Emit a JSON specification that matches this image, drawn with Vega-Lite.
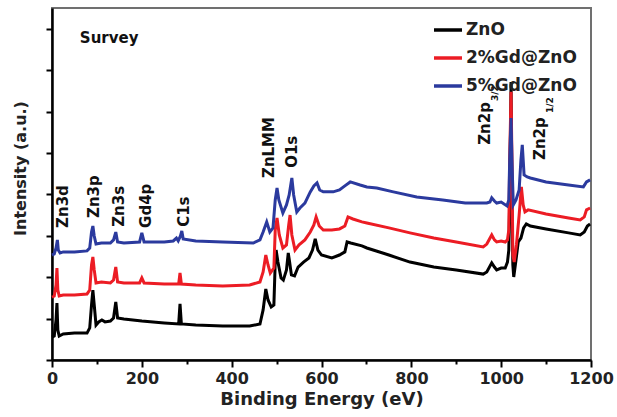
{
"$schema": "https://vega.github.io/schema/vega-lite/v6.json",
"width": 539, "height": 352,
"autosize": {"type": "none"},
"padding": {"left": 52, "top": 8, "right": 26, "bottom": 57},
"background": "white",
"config": {"font": "DejaVu Sans", "view": {"stroke": "#707070", "strokeWidth": 2}},
"datasets": {
"spectra": [
{"sample":"ZnO","energy":0,"intensity":1.11},{"sample":"ZnO","energy":5,"intensity":1.16},{"sample":"ZnO","energy":9,"intensity":1.93},{"sample":"ZnO","energy":11,"intensity":2.75},{"sample":"ZnO","energy":13,"intensity":1.45},{"sample":"ZnO","energy":16,"intensity":1.16},{"sample":"ZnO","energy":25,"intensity":1.26},{"sample":"ZnO","energy":50,"intensity":1.30},{"sample":"ZnO","energy":78,"intensity":1.30},{"sample":"ZnO","energy":84,"intensity":1.55},{"sample":"ZnO","energy":88,"intensity":2.66},{"sample":"ZnO","energy":91,"intensity":3.38},{"sample":"ZnO","energy":94,"intensity":2.66},{"sample":"ZnO","energy":98,"intensity":1.69},{"sample":"ZnO","energy":104,"intensity":1.84},{"sample":"ZnO","energy":111,"intensity":1.93},{"sample":"ZnO","energy":118,"intensity":1.84},{"sample":"ZnO","energy":130,"intensity":1.88},{"sample":"ZnO","energy":137,"intensity":2.03},{"sample":"ZnO","energy":142,"intensity":2.80},{"sample":"ZnO","energy":146,"intensity":2.03},{"sample":"ZnO","energy":160,"intensity":1.98},{"sample":"ZnO","energy":200,"intensity":1.88},{"sample":"ZnO","energy":250,"intensity":1.79},{"sample":"ZnO","energy":282,"intensity":1.74},{"sample":"ZnO","energy":285,"intensity":2.71},{"sample":"ZnO","energy":288,"intensity":1.74},{"sample":"ZnO","energy":320,"intensity":1.69},{"sample":"ZnO","energy":380,"intensity":1.64},{"sample":"ZnO","energy":440,"intensity":1.64},{"sample":"ZnO","energy":463,"intensity":1.74},{"sample":"ZnO","energy":470,"intensity":2.42},{"sample":"ZnO","energy":476,"intensity":3.43},{"sample":"ZnO","energy":481,"intensity":2.90},{"sample":"ZnO","energy":488,"intensity":2.56},{"sample":"ZnO","energy":494,"intensity":2.66},{"sample":"ZnO","energy":497,"intensity":4.73},{"sample":"ZnO","energy":499,"intensity":5.31},{"sample":"ZnO","energy":503,"intensity":4.73},{"sample":"ZnO","energy":510,"intensity":3.96},{"sample":"ZnO","energy":515,"intensity":3.86},{"sample":"ZnO","energy":522,"intensity":4.35},{"sample":"ZnO","energy":526,"intensity":5.17},{"sample":"ZnO","energy":529,"intensity":4.73},{"sample":"ZnO","energy":533,"intensity":4.11},{"sample":"ZnO","energy":540,"intensity":4.06},{"sample":"ZnO","energy":548,"intensity":4.49},{"sample":"ZnO","energy":560,"intensity":4.73},{"sample":"ZnO","energy":572,"intensity":4.93},{"sample":"ZnO","energy":580,"intensity":5.31},{"sample":"ZnO","energy":586,"intensity":5.85},{"sample":"ZnO","energy":592,"intensity":5.31},{"sample":"ZnO","energy":600,"intensity":5.07},{"sample":"ZnO","energy":623,"intensity":4.93},{"sample":"ZnO","energy":640,"intensity":5.07},{"sample":"ZnO","energy":652,"intensity":5.22},{"sample":"ZnO","energy":657,"intensity":5.70},{"sample":"ZnO","energy":665,"intensity":5.65},{"sample":"ZnO","energy":690,"intensity":5.51},{"sample":"ZnO","energy":701,"intensity":5.41},{"sample":"ZnO","energy":750,"intensity":5.07},{"sample":"ZnO","energy":797,"intensity":4.73},{"sample":"ZnO","energy":850,"intensity":4.49},{"sample":"ZnO","energy":900,"intensity":4.35},{"sample":"ZnO","energy":960,"intensity":4.15},{"sample":"ZnO","energy":968,"intensity":4.25},{"sample":"ZnO","energy":979,"intensity":4.69},{"sample":"ZnO","energy":985,"intensity":4.49},{"sample":"ZnO","energy":990,"intensity":4.35},{"sample":"ZnO","energy":1000,"intensity":4.44},{"sample":"ZnO","energy":1009,"intensity":4.44},{"sample":"ZnO","energy":1014,"intensity":4.73},{"sample":"ZnO","energy":1017,"intensity":5.31},{"sample":"ZnO","energy":1019,"intensity":7.73},{"sample":"ZnO","energy":1022,"intensity":13.43},{"sample":"ZnO","energy":1024,"intensity":7.73},{"sample":"ZnO","energy":1026,"intensity":4.59},{"sample":"ZnO","energy":1028,"intensity":4.01},{"sample":"ZnO","energy":1033,"intensity":4.83},{"sample":"ZnO","energy":1038,"intensity":5.70},{"sample":"ZnO","energy":1044,"intensity":5.89},{"sample":"ZnO","energy":1050,"intensity":6.38},{"sample":"ZnO","energy":1056,"intensity":6.57},{"sample":"ZnO","energy":1065,"intensity":6.47},{"sample":"ZnO","energy":1100,"intensity":6.33},{"sample":"ZnO","energy":1150,"intensity":6.14},{"sample":"ZnO","energy":1176,"intensity":6.04},{"sample":"ZnO","energy":1185,"intensity":6.18},{"sample":"ZnO","energy":1192,"intensity":6.47},{"sample":"ZnO","energy":1198,"intensity":6.57},
{"sample":"2%Gd@ZnO","energy":0,"intensity":3.04},{"sample":"2%Gd@ZnO","energy":5,"intensity":3.09},{"sample":"2%Gd@ZnO","energy":9,"intensity":3.62},{"sample":"2%Gd@ZnO","energy":11,"intensity":4.44},{"sample":"2%Gd@ZnO","energy":13,"intensity":3.38},{"sample":"2%Gd@ZnO","energy":16,"intensity":3.09},{"sample":"2%Gd@ZnO","energy":25,"intensity":3.14},{"sample":"2%Gd@ZnO","energy":50,"intensity":3.14},{"sample":"2%Gd@ZnO","energy":78,"intensity":3.19},{"sample":"2%Gd@ZnO","energy":84,"intensity":3.38},{"sample":"2%Gd@ZnO","energy":88,"intensity":4.59},{"sample":"2%Gd@ZnO","energy":91,"intensity":4.98},{"sample":"2%Gd@ZnO","energy":94,"intensity":4.35},{"sample":"2%Gd@ZnO","energy":98,"intensity":3.72},{"sample":"2%Gd@ZnO","energy":110,"intensity":3.77},{"sample":"2%Gd@ZnO","energy":130,"intensity":3.72},{"sample":"2%Gd@ZnO","energy":137,"intensity":3.86},{"sample":"2%Gd@ZnO","energy":142,"intensity":4.49},{"sample":"2%Gd@ZnO","energy":146,"intensity":3.77},{"sample":"2%Gd@ZnO","energy":160,"intensity":3.72},{"sample":"2%Gd@ZnO","energy":195,"intensity":3.72},{"sample":"2%Gd@ZnO","energy":200,"intensity":3.96},{"sample":"2%Gd@ZnO","energy":205,"intensity":3.72},{"sample":"2%Gd@ZnO","energy":250,"intensity":3.67},{"sample":"2%Gd@ZnO","energy":282,"intensity":3.67},{"sample":"2%Gd@ZnO","energy":285,"intensity":4.20},{"sample":"2%Gd@ZnO","energy":288,"intensity":3.67},{"sample":"2%Gd@ZnO","energy":320,"intensity":3.62},{"sample":"2%Gd@ZnO","energy":380,"intensity":3.57},{"sample":"2%Gd@ZnO","energy":440,"intensity":3.62},{"sample":"2%Gd@ZnO","energy":463,"intensity":3.77},{"sample":"2%Gd@ZnO","energy":470,"intensity":4.25},{"sample":"2%Gd@ZnO","energy":476,"intensity":5.07},{"sample":"2%Gd@ZnO","energy":481,"intensity":4.59},{"sample":"2%Gd@ZnO","energy":486,"intensity":4.20},{"sample":"2%Gd@ZnO","energy":494,"intensity":4.44},{"sample":"2%Gd@ZnO","energy":497,"intensity":6.28},{"sample":"2%Gd@ZnO","energy":501,"intensity":6.86},{"sample":"2%Gd@ZnO","energy":506,"intensity":6.04},{"sample":"2%Gd@ZnO","energy":514,"intensity":5.41},{"sample":"2%Gd@ZnO","energy":522,"intensity":5.56},{"sample":"2%Gd@ZnO","energy":527,"intensity":6.52},{"sample":"2%Gd@ZnO","energy":530,"intensity":7.00},{"sample":"2%Gd@ZnO","energy":534,"intensity":6.04},{"sample":"2%Gd@ZnO","energy":541,"intensity":5.31},{"sample":"2%Gd@ZnO","energy":550,"intensity":5.56},{"sample":"2%Gd@ZnO","energy":563,"intensity":5.80},{"sample":"2%Gd@ZnO","energy":575,"intensity":6.18},{"sample":"2%Gd@ZnO","energy":583,"intensity":6.52},{"sample":"2%Gd@ZnO","energy":588,"intensity":6.91},{"sample":"2%Gd@ZnO","energy":595,"intensity":6.47},{"sample":"2%Gd@ZnO","energy":604,"intensity":6.28},{"sample":"2%Gd@ZnO","energy":623,"intensity":6.28},{"sample":"2%Gd@ZnO","energy":640,"intensity":6.33},{"sample":"2%Gd@ZnO","energy":652,"intensity":6.47},{"sample":"2%Gd@ZnO","energy":659,"intensity":6.91},{"sample":"2%Gd@ZnO","energy":670,"intensity":6.81},{"sample":"2%Gd@ZnO","energy":690,"intensity":6.67},{"sample":"2%Gd@ZnO","energy":701,"intensity":6.62},{"sample":"2%Gd@ZnO","energy":750,"intensity":6.38},{"sample":"2%Gd@ZnO","energy":797,"intensity":6.14},{"sample":"2%Gd@ZnO","energy":850,"intensity":5.89},{"sample":"2%Gd@ZnO","energy":900,"intensity":5.70},{"sample":"2%Gd@ZnO","energy":960,"intensity":5.46},{"sample":"2%Gd@ZnO","energy":968,"intensity":5.60},{"sample":"2%Gd@ZnO","energy":979,"intensity":6.04},{"sample":"2%Gd@ZnO","energy":985,"intensity":5.80},{"sample":"2%Gd@ZnO","energy":990,"intensity":5.70},{"sample":"2%Gd@ZnO","energy":1000,"intensity":5.75},{"sample":"2%Gd@ZnO","energy":1009,"intensity":5.70},{"sample":"2%Gd@ZnO","energy":1014,"intensity":5.80},{"sample":"2%Gd@ZnO","energy":1017,"intensity":6.28},{"sample":"2%Gd@ZnO","energy":1019,"intensity":9.66},{"sample":"2%Gd@ZnO","energy":1022,"intensity":12.95},{"sample":"2%Gd@ZnO","energy":1024,"intensity":9.66},{"sample":"2%Gd@ZnO","energy":1026,"intensity":5.07},{"sample":"2%Gd@ZnO","energy":1029,"intensity":4.73},{"sample":"2%Gd@ZnO","energy":1034,"intensity":5.56},{"sample":"2%Gd@ZnO","energy":1040,"intensity":7.00},{"sample":"2%Gd@ZnO","energy":1045,"intensity":8.36},{"sample":"2%Gd@ZnO","energy":1049,"intensity":7.49},{"sample":"2%Gd@ZnO","energy":1053,"intensity":7.15},{"sample":"2%Gd@ZnO","energy":1060,"intensity":7.25},{"sample":"2%Gd@ZnO","energy":1100,"intensity":7.05},{"sample":"2%Gd@ZnO","energy":1150,"intensity":6.86},{"sample":"2%Gd@ZnO","energy":1176,"intensity":6.76},{"sample":"2%Gd@ZnO","energy":1185,"intensity":6.91},{"sample":"2%Gd@ZnO","energy":1190,"intensity":7.25},{"sample":"2%Gd@ZnO","energy":1198,"intensity":7.34},
{"sample":"5%Gd@ZnO","energy":0,"intensity":5.07},{"sample":"5%Gd@ZnO","energy":5,"intensity":5.12},{"sample":"5%Gd@ZnO","energy":9,"intensity":5.41},{"sample":"5%Gd@ZnO","energy":12,"intensity":5.80},{"sample":"5%Gd@ZnO","energy":14,"intensity":5.31},{"sample":"5%Gd@ZnO","energy":18,"intensity":5.17},{"sample":"5%Gd@ZnO","energy":25,"intensity":5.22},{"sample":"5%Gd@ZnO","energy":50,"intensity":5.22},{"sample":"5%Gd@ZnO","energy":78,"intensity":5.27},{"sample":"5%Gd@ZnO","energy":84,"intensity":5.41},{"sample":"5%Gd@ZnO","energy":88,"intensity":6.18},{"sample":"5%Gd@ZnO","energy":91,"intensity":6.47},{"sample":"5%Gd@ZnO","energy":94,"intensity":5.99},{"sample":"5%Gd@ZnO","energy":98,"intensity":5.60},{"sample":"5%Gd@ZnO","energy":110,"intensity":5.65},{"sample":"5%Gd@ZnO","energy":130,"intensity":5.65},{"sample":"5%Gd@ZnO","energy":137,"intensity":5.80},{"sample":"5%Gd@ZnO","energy":142,"intensity":6.18},{"sample":"5%Gd@ZnO","energy":146,"intensity":5.70},{"sample":"5%Gd@ZnO","energy":160,"intensity":5.65},{"sample":"5%Gd@ZnO","energy":195,"intensity":5.70},{"sample":"5%Gd@ZnO","energy":200,"intensity":6.14},{"sample":"5%Gd@ZnO","energy":205,"intensity":5.70},{"sample":"5%Gd@ZnO","energy":250,"intensity":5.70},{"sample":"5%Gd@ZnO","energy":270,"intensity":5.75},{"sample":"5%Gd@ZnO","energy":277,"intensity":5.89},{"sample":"5%Gd@ZnO","energy":281,"intensity":5.75},{"sample":"5%Gd@ZnO","energy":286,"intensity":5.99},{"sample":"5%Gd@ZnO","energy":289,"intensity":6.23},{"sample":"5%Gd@ZnO","energy":292,"intensity":5.85},{"sample":"5%Gd@ZnO","energy":320,"intensity":5.75},{"sample":"5%Gd@ZnO","energy":380,"intensity":5.70},{"sample":"5%Gd@ZnO","energy":448,"intensity":5.65},{"sample":"5%Gd@ZnO","energy":463,"intensity":5.80},{"sample":"5%Gd@ZnO","energy":470,"intensity":6.18},{"sample":"5%Gd@ZnO","energy":478,"intensity":6.67},{"sample":"5%Gd@ZnO","energy":485,"intensity":6.18},{"sample":"5%Gd@ZnO","energy":492,"intensity":6.38},{"sample":"5%Gd@ZnO","energy":497,"intensity":7.73},{"sample":"5%Gd@ZnO","energy":501,"intensity":8.31},{"sample":"5%Gd@ZnO","energy":505,"intensity":7.73},{"sample":"5%Gd@ZnO","energy":514,"intensity":7.10},{"sample":"5%Gd@ZnO","energy":522,"intensity":7.49},{"sample":"5%Gd@ZnO","energy":528,"intensity":7.97},{"sample":"5%Gd@ZnO","energy":534,"intensity":8.79},{"sample":"5%Gd@ZnO","energy":538,"intensity":7.97},{"sample":"5%Gd@ZnO","energy":545,"intensity":7.15},{"sample":"5%Gd@ZnO","energy":552,"intensity":7.34},{"sample":"5%Gd@ZnO","energy":563,"intensity":7.58},{"sample":"5%Gd@ZnO","energy":575,"intensity":8.12},{"sample":"5%Gd@ZnO","energy":583,"intensity":8.41},{"sample":"5%Gd@ZnO","energy":590,"intensity":8.55},{"sample":"5%Gd@ZnO","energy":596,"intensity":8.21},{"sample":"5%Gd@ZnO","energy":604,"intensity":8.12},{"sample":"5%Gd@ZnO","energy":626,"intensity":8.12},{"sample":"5%Gd@ZnO","energy":640,"intensity":8.21},{"sample":"5%Gd@ZnO","energy":652,"intensity":8.41},{"sample":"5%Gd@ZnO","energy":664,"intensity":8.60},{"sample":"5%Gd@ZnO","energy":686,"intensity":8.45},{"sample":"5%Gd@ZnO","energy":701,"intensity":8.36},{"sample":"5%Gd@ZnO","energy":723,"intensity":8.31},{"sample":"5%Gd@ZnO","energy":760,"intensity":8.12},{"sample":"5%Gd@ZnO","energy":812,"intensity":7.87},{"sample":"5%Gd@ZnO","energy":870,"intensity":7.73},{"sample":"5%Gd@ZnO","energy":920,"intensity":7.58},{"sample":"5%Gd@ZnO","energy":968,"intensity":7.58},{"sample":"5%Gd@ZnO","energy":975,"intensity":7.63},{"sample":"5%Gd@ZnO","energy":979,"intensity":7.83},{"sample":"5%Gd@ZnO","energy":985,"intensity":7.68},{"sample":"5%Gd@ZnO","energy":990,"intensity":7.58},{"sample":"5%Gd@ZnO","energy":1000,"intensity":7.63},{"sample":"5%Gd@ZnO","energy":1013,"intensity":7.44},{"sample":"5%Gd@ZnO","energy":1017,"intensity":7.73},{"sample":"5%Gd@ZnO","energy":1019,"intensity":9.66},{"sample":"5%Gd@ZnO","energy":1022,"intensity":11.69},{"sample":"5%Gd@ZnO","energy":1024,"intensity":9.66},{"sample":"5%Gd@ZnO","energy":1027,"intensity":7.49},{"sample":"5%Gd@ZnO","energy":1033,"intensity":7.73},{"sample":"5%Gd@ZnO","energy":1040,"intensity":8.21},{"sample":"5%Gd@ZnO","energy":1044,"intensity":9.66},{"sample":"5%Gd@ZnO","energy":1047,"intensity":10.39},{"sample":"5%Gd@ZnO","energy":1051,"intensity":8.94},{"sample":"5%Gd@ZnO","energy":1058,"intensity":8.84},{"sample":"5%Gd@ZnO","energy":1065,"intensity":8.79},{"sample":"5%Gd@ZnO","energy":1100,"intensity":8.60},{"sample":"5%Gd@ZnO","energy":1150,"intensity":8.45},{"sample":"5%Gd@ZnO","energy":1183,"intensity":8.36},{"sample":"5%Gd@ZnO","energy":1190,"intensity":8.60},{"sample":"5%Gd@ZnO","energy":1198,"intensity":8.70}
],
"peaks": [
{"label":"Zn3d","energy":24.5,"intensity":6.38},
{"label":"Zn3p","energy":93.5,"intensity":6.86},
{"label":"Zn3s","energy":149,"intensity":6.43},
{"label":"Gd4p","energy":209,"intensity":6.38},
{"label":"C1s","energy":294,"intensity":6.43},
{"label":"ZnLMM","energy":483,"intensity":8.79},
{"label":"O1s","energy":534,"intensity":9.28},
{"label":"Zn2p","energy":964,"intensity":10.39},
{"label":"Zn2p","energy":1086,"intensity":9.66}
],
"subscripts": [
{"label":"3/2","energy":986,"intensity":12.51},
{"label":"1/2","energy":1109,"intensity":11.93}
],
"panel": [{"label":"Survey","energy":62,"intensity":15.56}]
},
"layer": [
{
"data": {"name": "spectra"},
"transform": [{"filter": "datum.sample === 'ZnO'"}],
"mark": {"type": "line", "strokeWidth": 3},
"encoding": {
"x": {"field": "energy", "type": "quantitative", "scale": {"domain": [0, 1200], "nice": false},
"axis": {"values": [0,100,200,300,400,500,600,700,800,900,1000,1100,1200], "format": "d",
"labelExpr": "datum.value % 200 === 0 ? datum.label : ''",
"tickSize": {"condition": {"test": "datum.value % 200 === 0", "value": 7}, "value": 4},
"tickWidth": 2, "tickColor": "black", "domainColor": "black", "domainWidth": 2.5, "grid": false,
"labelFont": "DejaVu Sans", "labelFontWeight": "bold", "labelFontSize": 16, "labelColor": "#222", "labelPadding": 3,
"labelFlush": false, "labelOverlap": false,
"title": "Binding Energy (eV)", "titleFont": "DejaVu Sans", "titleFontWeight": "bold", "titleFontSize": 18, "titleColor": "#222", "titlePadding": 4}},
"y": {"field": "intensity", "type": "quantitative", "scale": {"domain": [0, 17], "nice": false},
"axis": {"values": [0,1,2,3,4,5,6,7,8,9,10,11,12,13,14,15,16,17], "labels": false,
"tickSize": {"condition": {"test": "datum.value % 2 === 1", "value": 10}, "value": 6},
"tickWidth": 2, "tickColor": "black", "domainColor": "black", "domainWidth": 2.5, "grid": false,
"title": "Intensity (a.u.)", "titleFont": "DejaVu Sans", "titleFontWeight": "bold", "titleFontSize": 16, "titleColor": "#222",
"titleX": -32, "titleY": 160, "titleAngle": 270, "titleAlign": "center", "titleBaseline": "middle"}},
"color": {"field": "sample", "type": "nominal",
"scale": {"domain": ["ZnO", "2%Gd@ZnO", "5%Gd@ZnO"], "range": ["#000000", "#ec1c24", "#2b3a9e"]},
"legend": {"orient": "none", "legendX": 380, "legendY": 6, "title": null, "symbolType": "stroke", "symbolSize": 784, "symbolStrokeWidth": 3.5,
"labelFont": "DejaVu Sans", "labelFontWeight": "bold", "labelFontSize": 17, "labelColor": "#222", "rowPadding": 4, "labelOffset": 2}}
}
},
{
"data": {"name": "spectra"},
"transform": [{"filter": "datum.sample === '2%Gd@ZnO'"}],
"mark": {"type": "line", "strokeWidth": 3},
"encoding": {
"x": {"field": "energy", "type": "quantitative"},
"y": {"field": "intensity", "type": "quantitative"},
"color": {"field": "sample", "type": "nominal"}
}
},
{
"data": {"name": "spectra"},
"transform": [{"filter": "datum.sample === '5%Gd@ZnO'"}],
"mark": {"type": "line", "strokeWidth": 3},
"encoding": {
"x": {"field": "energy", "type": "quantitative"},
"y": {"field": "intensity", "type": "quantitative"},
"color": {"field": "sample", "type": "nominal"}
}
},
{
"data": {"name": "peaks"},
"mark": {"type": "text", "angle": 270, "align": "left", "baseline": "middle", "font": "DejaVu Sans", "fontWeight": "bold", "fontSize": 15, "color": "#111"},
"encoding": {
"x": {"field": "energy", "type": "quantitative"},
"y": {"field": "intensity", "type": "quantitative"},
"text": {"field": "label"}
}
},
{
"data": {"name": "subscripts"},
"mark": {"type": "text", "angle": 270, "align": "left", "baseline": "middle", "font": "DejaVu Sans", "fontWeight": "bold", "fontSize": 9, "color": "#111"},
"encoding": {
"x": {"field": "energy", "type": "quantitative"},
"y": {"field": "intensity", "type": "quantitative"},
"text": {"field": "label"}
}
},
{
"data": {"name": "panel"},
"mark": {"type": "text", "align": "left", "baseline": "middle", "font": "DejaVu Sans", "fontWeight": "bold", "fontSize": 15, "color": "#111"},
"encoding": {
"x": {"field": "energy", "type": "quantitative"},
"y": {"field": "intensity", "type": "quantitative"},
"text": {"field": "label"}
}
}
]
}
